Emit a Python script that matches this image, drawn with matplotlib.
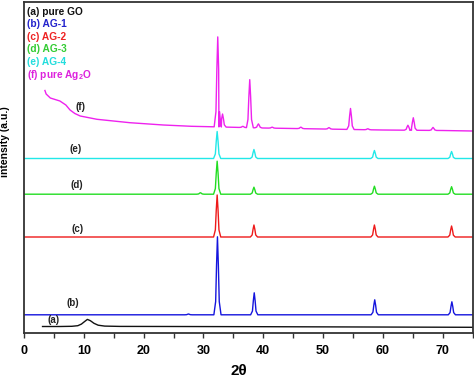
import matplotlib
matplotlib.use("Agg")
import matplotlib.pyplot as plt
import numpy as np

plt.rcParams['font.family'] = ['Liberation Sans', 'DejaVu Sans']
plt.rcParams['mathtext.fontset'] = 'custom'
plt.rcParams['mathtext.rm'] = 'Liberation Sans'
plt.rcParams['mathtext.bf'] = 'Liberation Sans:bold'

# ---- data (2theta in degrees, intensity in a.u.) ----
# (a) pure GO : broad hump around 10.6
go_x = [3.1, 6.0, 8.0, 9.0, 9.6, 10.1, 10.6, 11.1, 11.7, 12.4, 13.5, 16.0, 25.0, 40.0, 75.0]
go_y = [0.2, 0.2, 0.4, 1.0, 2.6, 5.0, 7.3, 6.0, 3.4, 1.5, 0.6, 0.3, 0.2, 0.0, -0.6]

# sharp Ag2O reflections: positions and heights above each baseline
ag1_pos = [27.5, 32.35, 38.5, 58.65, 71.55]
ag1_h = [0.8, 78, 22, 15, 13]
ag2_pos = [32.3, 38.45, 58.6, 71.5]
ag2_h = [42, 12, 12, 11]
ag3_pos = [29.5, 32.3, 38.45, 58.6, 71.5]
ag3_h = [1.5, 33, 7, 8, 7.5]
ag4_pos = [32.3, 38.45, 58.6, 71.5]
ag4_h = [27, 9, 8, 7]

# (f) pure Ag2O : sloping background + peaks
f_bg_x = [3.5, 3.7, 4.4, 6.0, 7.0, 7.7, 8.5, 9.4, 12.2, 17.7, 23.3, 28.0, 31.0, 40.0, 50.0, 60.0, 70.0, 75.0]
f_bg_y = [242.5, 239, 235, 232, 228, 223, 219.5, 217, 213.7, 210.3, 208, 206.7, 206.3, 205, 204, 203, 202.5, 202]
f_pos = [32.4, 33.2, 36.6, 37.75, 39.2, 41.5, 46.3, 51.0, 54.6, 57.5, 64.2, 65.1, 68.4]
f_h = [90, 13, 1.2, 48, 4, 1, 1.5, 1.5, 21, 1, 5, 12.5, 3]

# vertical offsets of the stacked patterns
offsets = {'a': 6.3, 'b': 18.2, 'c': 96, 'd': 138.8, 'e': 174.5}

legend_labels = ['(a) pure GO', '(b) AG-1', '(c) AG-2', '(d) AG-3', '(e) AG-4',
                 r'(f) pure Ag$_{\mathbf{2}}$O']

# peak profile shape (style only)
k_dx = np.array([-0.6, -0.3, -0.15, 0.0, 0.15, 0.3, 0.6])
k_fr = np.array([0.0, 0.17, 0.64, 1.0, 0.64, 0.17, 0.0])


def pattern(bx, by, pos, h, xmin=0.0, xmax=75.0):
    xs = list(bx)
    ys = list(by)
    for p, hh in zip(pos, h):
        px = p + k_dx
        xs += list(px)
        ys += list(np.interp(px, bx, by) + hh * k_fr)
    order = np.argsort(xs, kind='stable')
    xs = np.array(xs)[order]
    ys = np.array(ys)[order]
    m = (xs >= xmin) & (xs <= xmax)
    return xs[m], ys[m]


fig = plt.figure(figsize=(4.74, 3.78), dpi=100)
ax = fig.add_axes([24 / 474, 1 - 333 / 378, 448.5 / 474, 331 / 378])

ax.plot(go_x, np.array(go_y) + offsets['a'], color='#111111', lw=1.0)

for pos, h, key, col in [(ag1_pos, ag1_h, 'b', '#1515dd'),
                         (ag2_pos, ag2_h, 'c', '#ee1a1a'),
                         (ag3_pos, ag3_h, 'd', '#22dd22'),
                         (ag4_pos, ag4_h, 'e', '#22e8e8')]:
    x, y = pattern([0.0, 75.0], [offsets[key]] * 2, pos, h)
    ax.plot(x, y, color=col, lw=1.0)

x, y = pattern(f_bg_x, f_bg_y, f_pos, f_h)
ax.plot(x, y, color='#ee22ee', lw=1.0)

# curve labels
for s, xx, yy in [('(f)', 9.4, 226), ('(e)', 8.7, 184), ('(d)', 8.9, 148),
                  ('(c)', 8.9, 104), ('(b)', 8.2, 30), ('(a)', 4.9, 13)]:
    ax.text(xx, yy, s, fontsize=7, fontweight='bold', color='#222222',
            ha='center', va='center')

# legend as coloured text
leg_cols = ['#111111', '#2222cc', '#ee2222', '#33cc33', '#22dddd', '#dd22dd']
leg_y = [321.3, 308.7, 296.3, 283.7, 271, 258]
for s, c, yy in zip(legend_labels, leg_cols, leg_y):
    ax.text(0.5, yy, s, fontsize=7.3, fontweight='bold', color=c,
            ha='left', va='center')

ax.set_xlim(0, 75)
ax.set_ylim(0, 331)
ax.set_xticks(range(0, 71, 10))
ax.set_xticks(range(5, 76, 10), minor=True)
ax.set_yticks([])
ax.tick_params(axis='x', which='both', direction='out', length=3.3, width=1.0,
               color='#333333', labelsize=9, pad=5)
for lab in ax.get_xticklabels():
    lab.set_fontweight('bold')
for sp in ax.spines.values():
    sp.set_linewidth(1.3)
    sp.set_color('#333333')

ax.set_xlabel('2θ', fontsize=11, fontweight='bold', va='center')
ax.xaxis.set_label_coords(0.479, -0.115)
ax.set_ylabel('intensity (a.u.)', fontsize=7.5, fontweight='bold')
ax.yaxis.set_label_coords(-0.031, 0.577)

fig.savefig('out.png', dpi=100)
